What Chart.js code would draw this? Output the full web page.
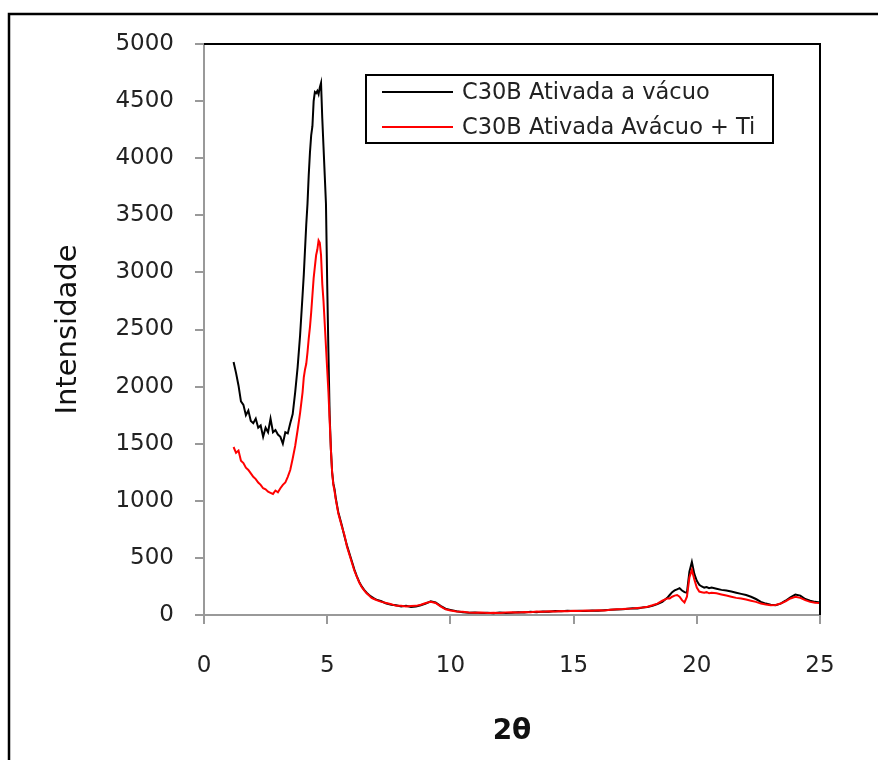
<!DOCTYPE html>
<html>
<head>
<meta charset="utf-8">
<script src="https://cdn.jsdelivr.net/npm/chart.js@4/dist/chart.umd.min.js"></script>
<style>
  html, body { margin: 0; padding: 0; background: #fff; }
  #wrap { position: relative; width: 878px; height: 760px; }
</style>
</head>
<body>
<div id="wrap"><canvas id="c" width="878" height="760"></canvas></div>
<script>
// ---- Data ----
const twoTheta = [
  1.2,1.3,1.4,1.5,1.6,1.7,1.8,1.9,2.0,2.1,2.2,2.3,2.4,2.5,2.6,2.7,2.8,2.9,3.0,3.1,3.2,3.3,3.4,3.5,3.6,3.7,3.8,3.9,4.0,
  4.05,4.1,4.15,4.2,4.25,4.3,4.35,4.4,4.45,4.5,4.55,4.6,4.65,4.7,4.75,4.8,4.85,4.9,4.95,5.0,5.05,5.1,5.15,5.2,5.25,5.3,5.35,5.4,5.45,5.5,
  5.6,5.7,5.8,5.9,6.0,6.1,6.2,6.3,6.4,6.5,6.6,6.7,6.8,6.9,7.0,
  7.2,7.4,7.6,7.8,8.0,8.2,8.4,8.6,8.8,9.0,9.2,9.4,9.6,9.8,10.0,
  10.25,10.5,10.75,11,11.25,11.5,11.75,12,12.25,12.5,12.75,13,13.25,13.5,13.75,14,14.25,14.5,14.75,15,15.25,15.5,15.75,16,16.25,16.5,16.75,17,
  17.2,17.4,17.6,17.8,18.0,18.2,18.4,18.6,18.8,
  18.9,19.0,19.1,19.2,19.3,19.4,19.5,19.6,19.7,19.8,19.9,20.0,20.1,20.2,20.3,20.4,20.5,
  20.6,20.8,21.0,21.2,21.4,21.6,21.8,22.0,22.2,22.4,22.6,22.8,23.0,23.2,23.4,23.6,23.8,24.0,24.2,24.4,24.6,24.8,25.0
];
const ativadaVacuo = [
  2215,2120,2010,1870,1840,1750,1790,1700,1680,1720,1640,1660,1560,1640,1600,1720,1600,1620,1580,1560,1500,1600,1590,1680,1760,1950,2170,2450,2800,
  2980,3200,3420,3600,3850,4050,4200,4280,4500,4580,4570,4590,4560,4620,4660,4350,4100,3850,3600,2900,2300,1750,1450,1250,1150,1100,1020,960,900,860,
  780,690,610,540,470,400,340,290,250,220,195,175,160,145,135,
  120,100,90,85,75,80,70,75,85,100,120,110,80,55,45,
  32,25,20,22,18,20,15,22,18,20,25,22,28,25,30,28,35,32,38,35,38,35,40,38,42,45,48,50,
  55,60,58,65,70,80,95,115,150,
  175,200,215,225,235,215,200,195,380,465,360,300,265,250,240,245,235,
  240,230,220,215,205,195,185,175,160,140,115,100,90,85,100,125,155,180,170,140,125,115,110
];
const ativadaVacuoTi = [
  1471,1420,1440,1350,1330,1290,1270,1240,1210,1190,1160,1140,1110,1100,1080,1070,1060,1090,1075,1110,1140,1160,1210,1270,1370,1480,1620,1770,1950,
  2080,2150,2200,2300,2420,2520,2650,2800,2950,3050,3150,3200,3280,3260,3150,2900,2750,2550,2350,2150,1950,1700,1450,1250,1140,1080,1010,950,890,850,
  770,700,600,530,460,390,335,285,245,215,190,170,150,140,130,
  115,105,95,80,80,75,78,80,90,105,115,105,75,50,40,
  30,28,22,20,22,18,20,18,22,25,22,26,25,30,28,32,30,35,33,38,35,40,38,42,40,45,50,52,
  55,58,62,65,72,85,100,125,145,
  145,160,170,175,160,130,110,160,330,395,310,240,205,200,195,200,190,
  195,190,180,170,160,150,145,135,125,115,100,92,85,88,100,120,145,160,150,130,115,108,105
];
const seriesLabels = ['C30B Ativada a vácuo', 'C30B Ativada Avácuo + Ti'];
const yTicks = [0,500,1000,1500,2000,2500,3000,3500,4000,4500,5000];
const xTicks = [0,5,10,15,20,25];
const xTitle = '2θ';
const yTitle = 'Intensidade';

// ---- Plugins: outer frame, plot-area top/right border, legend box ----
const framePlugin = {
  id: 'frame',
  afterDraw(chart) {
    const ctx = chart.ctx, a = chart.chartArea;
    ctx.save();
    ctx.strokeStyle = '#000';
    ctx.lineWidth = 2.5;
    ctx.beginPath();
    ctx.moveTo(9, 800); ctx.lineTo(9, 14); ctx.lineTo(900, 14);
    ctx.stroke();
    ctx.lineWidth = 2;
    ctx.beginPath();
    ctx.moveTo(a.left, a.top); ctx.lineTo(a.right, a.top); ctx.lineTo(a.right, a.bottom);
    ctx.stroke();
    ctx.restore();
  }
};
const legendPlugin = {
  id: 'boxLegend',
  afterDraw(chart) {
    const ctx = chart.ctx;
    const box = { l: 366, t: 75, r: 773, b: 143 };
    ctx.save();
    ctx.fillStyle = '#fff';
    ctx.fillRect(box.l, box.t, box.r - box.l, box.b - box.t);
    ctx.strokeStyle = '#000';
    ctx.lineWidth = 2;
    ctx.strokeRect(box.l, box.t, box.r - box.l, box.b - box.t);
    const rows = [92, 127];
    chart.data.datasets.forEach((ds, i) => {
      ctx.strokeStyle = ds.borderColor;
      ctx.lineWidth = 2;
      ctx.beginPath();
      ctx.moveTo(382, rows[i]); ctx.lineTo(453, rows[i]);
      ctx.stroke();
      ctx.fillStyle = '#222';
      ctx.font = '22.5px "DejaVu Sans"';
      ctx.textBaseline = 'middle';
      ctx.textAlign = 'left';
      ctx.fillText(ds.label, 462, rows[i] + 1);
    });
    ctx.restore();
  }
};

const mk = arr => twoTheta.map((x, i) => ({ x: x, y: arr[i] }));
const plain = v => String(v);

new Chart(document.getElementById('c'), {
  type: 'line',
  data: {
    datasets: [
      { label: seriesLabels[0], data: mk(ativadaVacuo), borderColor: '#000000', borderWidth: 2, pointRadius: 0, tension: 0, order: 1 },
      { label: seriesLabels[1], data: mk(ativadaVacuoTi), borderColor: '#ff0000', borderWidth: 2, pointRadius: 0, tension: 0, order: 0 }
    ]
  },
  options: {
    responsive: false,
    animation: false,
    layout: { padding: { left: 0, top: 44, right: 58, bottom: 0 } },
    plugins: { legend: { display: false }, tooltip: { enabled: false } },
    scales: {
      x: {
        type: 'linear', min: 0, max: 25,
        afterBuildTicks: s => { s.ticks = xTicks.map(v => ({ value: v })); },
        afterFit: s => { s.height = 145; },
        grid: { display: true, drawOnChartArea: false, drawTicks: true, tickLength: 9, color: '#999', lineWidth: 2 },
        border: { display: true, color: '#999', width: 2 },
        ticks: { color: '#222', font: { family: 'DejaVu Sans', size: 23 }, padding: 28, maxRotation: 0, callback: plain },
        title: { display: true, text: xTitle, color: '#111', font: { family: 'DejaVu Sans', size: 28, weight: 'bold' }, padding: { top: 0, bottom: 11 } }
      },
      y: {
        type: 'linear', min: 0, max: 5000,
        afterBuildTicks: s => { s.ticks = yTicks.map(v => ({ value: v })); },
        afterFit: s => { s.width = 204; },
        grid: { display: true, drawOnChartArea: false, drawTicks: true, tickLength: 9, color: '#999', lineWidth: 2 },
        border: { display: true, color: '#999', width: 2 },
        ticks: { color: '#222', font: { family: 'DejaVu Sans', size: 23 }, padding: 21, callback: plain },
        title: { display: true, text: yTitle, color: '#111', font: { family: 'DejaVu Sans', size: 29 }, padding: { top: 51, bottom: 0 } }
      }
    }
  },
  plugins: [framePlugin, legendPlugin]
});
</script>
</body>
</html>
